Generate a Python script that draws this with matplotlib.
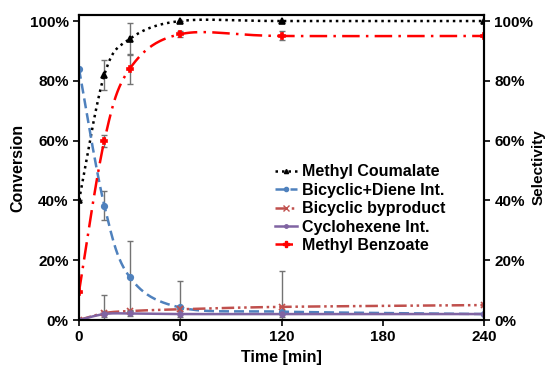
import numpy as np
import matplotlib.pyplot as plt
from matplotlib.ticker import PercentFormatter

plt.rcParams['font.family'] = ['Liberation Sans', 'DejaVu Sans']
plt.rcParams['font.weight'] = 'bold'
plt.rcParams['font.size'] = 11

# time points [min]
time = [0, 15, 30, 60, 120, 240]

# conversion / selectivity in %
coumalate = [40, 82, 94, 100, 100, 100]
coumalate_err = [0, 5, 5.5, 0, 0, 0]
bicyclic_diene = [84, 38.3, 14.4, 4.2, 2.8, 2.0]
bicyclic_diene_err = [0, 5, 12, 9, 0, 0]
byproduct = [0, 2.3, 3.0, 3.6, 4.4, 5.0]
byproduct_err = [0, 6, 0, 0, 12, 0]
cyclohexene = [0, 2.0, 2.2, 2.0, 2.0, 2.0]
cyclohexene_err = [0, 1, 1, 1, 1, 0]
benzoate = [9.5, 60, 84, 95.6, 95, 95]
benzoate_err = [0, 2, 5, 1, 1.5, 0]


def smooth(x, y, n=40):
    # Excel-style smoothed line (uniform Catmull-Rom through the points)
    p = np.column_stack([x, y]).astype(float)
    p = np.vstack([p[0], p, p[-1]])
    out = []
    for i in range(1, len(p) - 2):
        p0, p1, p2, p3 = p[i - 1], p[i], p[i + 1], p[i + 2]
        c1 = p1 + (p2 - p0) / 6
        c2 = p2 - (p3 - p1) / 6
        t = np.linspace(0, 1, n)[:, None]
        seg = ((1 - t) ** 3) * p1 + 3 * ((1 - t) ** 2) * t * c1 + 3 * (1 - t) * t ** 2 * c2 + t ** 3 * p2
        out.append(seg if i == 1 else seg[1:])
    s = np.vstack(out)
    return s[:, 0], s[:, 1]


fig = plt.figure(figsize=(5.48, 3.67), dpi=100)
ax = fig.add_axes([0.1442, 0.128, 0.739, 0.831])

series = [
    ('Methyl Coumalate', coumalate, coumalate_err, 'black', (0, (1, 1.6)), '^', 4),
    ('Bicyclic+Diene Int.', bicyclic_diene, bicyclic_diene_err, '#4f81bd', (0, (4, 2)), 'o', 4),
    ('Bicyclic byproduct', byproduct, byproduct_err, '#c0504d', (0, (5, 1.5, 1, 1.5, 1, 1.5)), 'x', 5),
    ('Cyclohexene Int.', cyclohexene, cyclohexene_err, '#8064a2', '-', 'o', 3.5),
    ('Methyl Benzoate', benzoate, benzoate_err, '#ff0000', (0, (7, 2.5, 1, 2.5)), 'P', 5),
]

for label, vals, err, col, ls, mk, ms in series:
    ax.errorbar(time, vals, yerr=err, fmt='none', ecolor='0.45', elinewidth=1,
                capsize=2, capthick=1, zorder=2)
    sx, sy = smooth(time, vals)
    ax.plot(sx, sy, color=col, linestyle=ls, lw=1.8, zorder=3)
    ax.plot(time, vals, linestyle='none', marker=mk, color=col, ms=ms,
            mew=1.2, zorder=4)
    ax.plot([], [], color=col, linestyle=ls, lw=1.8, marker=mk, ms=ms - 1,
            mew=1, label=label)

ax.set_xlim(0, 240)
ax.set_ylim(0, 102)
ax.set_xticks([0, 60, 120, 180, 240])
ax.set_yticks([0, 20, 40, 60, 80, 100])
ax.yaxis.set_major_formatter(PercentFormatter(decimals=0))
ax.set_xlabel('Time [min]', fontsize=11.5, fontweight='bold', labelpad=4)
ax.set_ylabel('Conversion', fontsize=11.5, fontweight='bold', labelpad=3)
ax.tick_params(direction='out', length=4, width=1.2, labelsize=11)
for sp in ax.spines.values():
    sp.set_linewidth(1.5)

ax2 = ax.twinx()
ax2.set_ylim(0, 102)
ax2.set_yticks([0, 20, 40, 60, 80, 100])
ax2.yaxis.set_major_formatter(PercentFormatter(decimals=0))
ax2.set_ylabel('Selectivity', fontsize=11, fontweight='bold', rotation=90, labelpad=-1)
ax2.tick_params(direction='out', length=4, width=1.2, labelsize=11)
for sp in ax2.spines.values():
    sp.set_linewidth(1.5)

ax.legend(loc='upper left', bbox_to_anchor=(0.484, 0.51), frameon=False,
          borderpad=0, borderaxespad=0, handlelength=1.4, handletextpad=0.3,
          labelspacing=0.21, fontsize=11.5)

fig.savefig('out.png', dpi=100)
